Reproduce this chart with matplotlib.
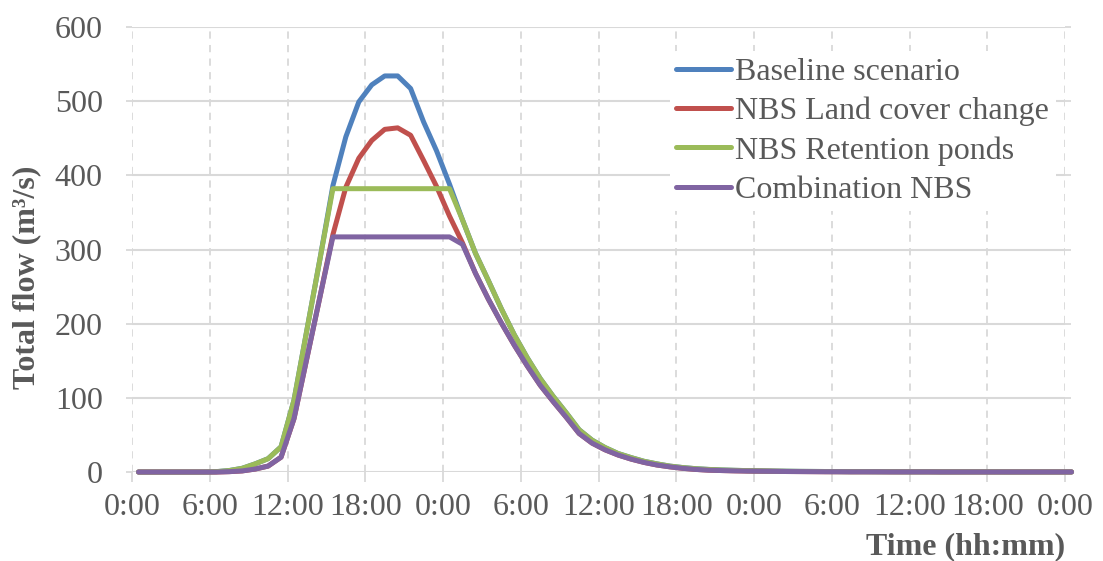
import matplotlib
matplotlib.use("Agg")
import matplotlib.pyplot as plt

# hourly flow values (m3/s), 73 points from 0:00 day 1 to 0:00 day 4
hours = list(range(73))
tick_labels = ["0:00", "6:00", "12:00", "18:00"] * 3 + ["0:00"]

baseline = [0, 0, 0, 0, 0, 0, 0.5, 2, 5, 11, 18, 34, 97, 192, 287,
            386, 452, 499, 522, 534, 534, 517, 472, 433, 388,
            340, 295, 258, 220, 185, 154, 126, 102, 80, 57, 43, 33, 25, 19.5, 14.5,
            11, 8, 6, 4.5, 3.5, 2.8, 2.3, 1.9, 1.6, 1.3, 1.1, 0.9, 0.8, 0.7,
            0.6, 0.5, 0.5, 0.4, 0.4, 0.3, 0.3, 0.3, 0.2, 0.2, 0.2, 0.2, 0.2,
            0.1, 0.1, 0.1, 0.1, 0.1, 0.1]
land_cover = [0, 0, 0, 0, 0, 0, 0, 0.5, 1.5, 4, 8, 20, 72, 154, 236,
              320, 384, 423, 447, 462, 464, 454, 420, 385, 345,
              309, 268, 233, 201, 171, 143, 117, 95, 74, 52, 39, 30, 23, 17.5, 13,
              9.5, 7, 5, 3.5, 2.5, 2.0, 1.6, 1.3, 1.1, 0.9, 0.7, 0.6, 0.5, 0.4,
              0.4, 0.3, 0.3, 0.3, 0.2, 0.2, 0.2, 0.2, 0.1, 0.1, 0.1, 0.1, 0.1,
              0.1, 0.1, 0.1, 0.1, 0.1, 0.1]
retention = [0, 0, 0, 0, 0, 0, 0.5, 2, 5, 11, 18, 34, 97, 192, 287,
             382, 382, 382, 382, 382, 382, 382, 382, 382, 382,
             340, 295, 258, 220, 185, 154, 126, 102, 80, 57, 43, 33, 25, 19.5, 14.5,
             11, 8, 6, 4.5, 3.5, 2.8, 2.3, 1.9, 1.6, 1.3, 1.1, 0.9, 0.8, 0.7,
             0.6, 0.5, 0.5, 0.4, 0.4, 0.3, 0.3, 0.3, 0.2, 0.2, 0.2, 0.2, 0.2,
             0.1, 0.1, 0.1, 0.1, 0.1, 0.1]
combination = [0, 0, 0, 0, 0, 0, 0, 0.5, 1.5, 4, 8, 20, 72, 154, 236,
               317, 317, 317, 317, 317, 317, 317, 317, 317, 317,
               307, 268, 233, 201, 171, 143, 117, 95, 74, 52, 39, 30, 23, 17.5, 13,
               9.5, 7, 5, 3.5, 2.5, 2.0, 1.6, 1.3, 1.1, 0.9, 0.7, 0.6, 0.5, 0.4,
               0.4, 0.3, 0.3, 0.3, 0.2, 0.2, 0.2, 0.2, 0.1, 0.1, 0.1, 0.1, 0.1,
               0.1, 0.1, 0.1, 0.1, 0.1, 0.1]

series = [
    ("Baseline scenario", baseline, "#4F81BD"),
    ("NBS Land cover change", land_cover, "#C0504D"),
    ("NBS Retention ponds", retention, "#9BBB59"),
    ("Combination NBS", combination, "#8064A2"),
]

plt.rcParams["font.family"] = ["Liberation Serif", "DejaVu Serif"]
text_color = "#595959"
grid_color = "#D9D9D9"

fig = plt.figure(figsize=(11.03, 5.61), dpi=100)
ax = fig.add_axes([0.1197, 0.1586, 0.8459, 0.7933])

# points sit in the middle of each hour slot
x = [h + 0.5 for h in hours]
for name, vals, color in series:
    ax.plot(x, vals, color=color, lw=3.6, label=name, clip_on=False,
            solid_capstyle="round", solid_joinstyle="round", zorder=3)

ax.set_xlim(0, 72)
ax.set_ylim(0, 600)
ax.set_xticks(range(0, 73, 6))
ax.set_xticklabels(tick_labels)
ax.set_yticks(range(0, 601, 100))

for s in ax.spines.values():
    s.set_visible(False)

ax.grid(axis="y", color=grid_color, lw=1.5, ls="-", zorder=0)
ax.grid(axis="x", color=grid_color, lw=1.3, ls=(0, (4, 3.5)), zorder=0)
ax.set_axisbelow(True)

ax.tick_params(axis="x", colors=grid_color, length=7, width=1.3, pad=8,
               labelsize=23, labelcolor=text_color)
ax.tick_params(axis="y", colors=grid_color, length=4, width=1.3, pad=17,
               labelsize=23, labelcolor=text_color, right=True)

fig.text(0.024, 0.505, "Total flow (m³/s)", rotation=90, ha="center", va="center",
         fontsize=23, fontweight="bold", color=text_color)
fig.text(1065 / 1103, 1 - 547 / 561, "Time (hh:mm)", ha="right", va="center",
         fontsize=23, fontweight="bold", color=text_color)

leg = ax.legend(loc="upper left", bbox_to_anchor=(670 / 1103, 1 - 51 / 561),
                bbox_transform=fig.transFigure, frameon=True, fontsize=23,
                handlelength=1.7, handletextpad=0.15, labelspacing=0.31,
                borderpad=0.2, borderaxespad=0)
leg.get_frame().set_facecolor("white")
leg.get_frame().set_edgecolor("none")
leg.get_frame().set_alpha(1)
for t in leg.get_texts():
    t.set_color(text_color)

fig.savefig("out.png", dpi=100)
